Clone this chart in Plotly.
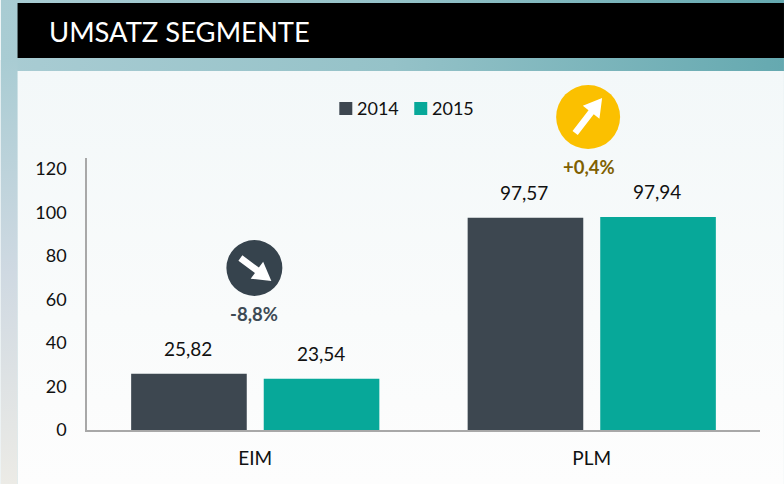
import base64
import math
import plotly.graph_objects as go

categories = ["EIM", "PLM"]
series_names = ["2014", "2015"]
values_2014 = [25.82, 97.57]
values_2015 = [23.54, 97.94]
y_ticks = [0, 20, 40, 60, 80, 100, 120]
changes = ["-8,8%", "+0,4%"]

W, H = 784, 484
L, R, T, B = 86.5, 760, 158, 430
FONT = "Lato, Carlito, 'Open Sans', sans-serif"
C14, C15 = "#3d4750", "#07a899"


def px(x):
    return (x - L) / (R - L)


def py(y):
    return (B - y) / (B - T)


def arrow_path(tail, tip, head_len=18, head_half=10.5, shaft_half=3.3):
    dx, dy = tip[0] - tail[0], tip[1] - tail[1]
    n = math.hypot(dx, dy)
    ux, uy = dx / n, dy / n
    nx, ny = -uy, ux
    bx, by = tip[0] - ux * head_len, tip[1] - uy * head_len
    pts = [
        (tail[0] + nx * shaft_half, tail[1] + ny * shaft_half),
        (bx + nx * shaft_half, by + ny * shaft_half),
        (bx + nx * head_half, by + ny * head_half),
        tip,
        (bx - nx * head_half, by - ny * head_half),
        (bx - nx * shaft_half, by - ny * shaft_half),
        (tail[0] - nx * shaft_half, tail[1] - ny * shaft_half),
    ]
    return "M " + " L ".join(f"{px(a):.5f},{py(b):.5f}" for a, b in pts) + " Z"


svg = f"""<svg xmlns='http://www.w3.org/2000/svg' width='{W}' height='{H}'>
<defs>
<linearGradient id='a' x1='0' y1='0' x2='1' y2='0'>
<stop offset='0' stop-color='#a9ccd3'/><stop offset='0.5' stop-color='#95c2c8'/><stop offset='1' stop-color='#65a9b0'/>
</linearGradient>
<linearGradient id='b' x1='0' y1='0' x2='0' y2='1'>
<stop offset='0' stop-color='#a9ccd3'/><stop offset='0.5' stop-color='#cfd9e2'/><stop offset='1' stop-color='#ecebe6'/>
</linearGradient>
<linearGradient id='c' x1='0' y1='0' x2='0' y2='1'>
<stop offset='0' stop-color='#f3f8f9'/><stop offset='0.6' stop-color='#f9fbfb'/><stop offset='1' stop-color='#fdfdfd'/>
</linearGradient>
</defs>
<rect width='{W}' height='{H}' fill='url(#a)'/>
<rect y='60' width='17' height='{H - 60}' fill='url(#b)'/>
<rect x='17' y='71' width='{W - 17}' height='{H - 71}' fill='url(#c)'/>
<rect x='17' y='3' width='{W - 17}' height='55' fill='#000000'/>
</svg>"""
bg_uri = "data:image/svg+xml;base64," + base64.b64encode(svg.encode()).decode()

fig = go.Figure()
for name, vals, col in [(series_names[0], values_2014, C14), (series_names[1], values_2015, C15)]:
    fig.add_bar(name=name, x=categories, y=vals, marker=dict(color=col, line=dict(width=0)))

annotations = [dict(xref="paper", yref="paper", x=px(46.5), y=py(31), text="UMSATZ SEGMENTE",
                    showarrow=False, xanchor="left", yanchor="middle",
                    font=dict(family=FONT, size=27.4, color="#ffffff"))]
for i in range(len(categories)):
    for off, vals in [(-0.197, values_2014), (0.197, values_2015)]:
        annotations.append(dict(xref="x", yref="y", x=i + off, y=vals[i], xanchor="center",
                                text=f"{vals[i]:.2f}".replace(".", ","), showarrow=False,
                                yanchor="bottom", yshift=12, xshift=-1,
                                font=dict(family=FONT, size=19, color="#111111")))

shapes = []
# legend
for name, col, sx in [(series_names[0], C14, 339), (series_names[1], C15, 414)]:
    shapes.append(dict(type="rect", xref="paper", yref="paper", x0=px(sx), x1=px(sx + 13),
                       y0=py(115), y1=py(102), fillcolor=col, line=dict(width=0)))
    annotations.append(dict(xref="paper", yref="paper", x=px(sx + 15.5), y=py(108), text=name,
                            showarrow=False, xanchor="left", yanchor="middle",
                            font=dict(family=FONT, size=18, color="#111111")))

# badges: centre, radius, colour, arrow tail and tip, label
badges = [
    (254, 268, 28, "#36434d", (240, 258), (271, 281), changes[0], (254, 314), "#3d4a55"),
    (588, 117, 32, "#fbc000", (575, 133), (602, 98), changes[1], (588.5, 167), "#7f6000"),
]
for cx, cy, r, col, tail, tip, label, lpos, lcol in badges:
    shapes.append(dict(type="circle", xref="paper", yref="paper",
                       x0=px(cx - r), x1=px(cx + r), y0=py(cy + r), y1=py(cy - r),
                       fillcolor=col, line=dict(width=0), layer="above"))
    shapes.append(dict(type="path", xref="paper", yref="paper", path=arrow_path(tail, tip),
                       fillcolor="#ffffff", line=dict(width=0), layer="above"))
    annotations.append(dict(xref="paper", yref="paper", x=px(lpos[0]), y=py(lpos[1]),
                            text=f"<b>{label}</b>", showarrow=False, xanchor="center", yanchor="middle",
                            font=dict(family=FONT, size=18.5, color=lcol)))

fig.update_layout(
    width=W, height=H, autosize=False,
    margin=dict(l=L, r=W - R, t=T, b=H - B, pad=0),
    paper_bgcolor="rgba(0,0,0,0)", plot_bgcolor="rgba(0,0,0,0)",
    images=[dict(source=bg_uri, xref="paper", yref="paper", x=px(0), y=py(0),
                 sizex=W / (R - L), sizey=H / (B - T), xanchor="left", yanchor="top",
                 sizing="stretch", layer="below")],
    barmode="group", bargap=0.212, bargroupgap=0.128,
    showlegend=False,
    font=dict(family=FONT, size=18, color="#111111"),
    xaxis=dict(type="category", showgrid=False, showline=True, linecolor="#a8a8a8", linewidth=1.5,
               ticks="", tickfont=dict(family=FONT, size=19, color="#111111"), automargin=False,
               ticklabelstandoff=10),
    yaxis=dict(range=[0, 125], tickvals=y_ticks, showgrid=False, showline=True, zeroline=False,
               linecolor="#a8a8a8", linewidth=1.5, ticks="", automargin=False,
               ticklabelstandoff=15, tickfont=dict(family=FONT, size=18, color="#111111")),
    annotations=annotations,
    shapes=shapes,
)
fig.write_html("out.html", config={"displayModeBar": False},
               post_script="document.body.style.margin='0';")
